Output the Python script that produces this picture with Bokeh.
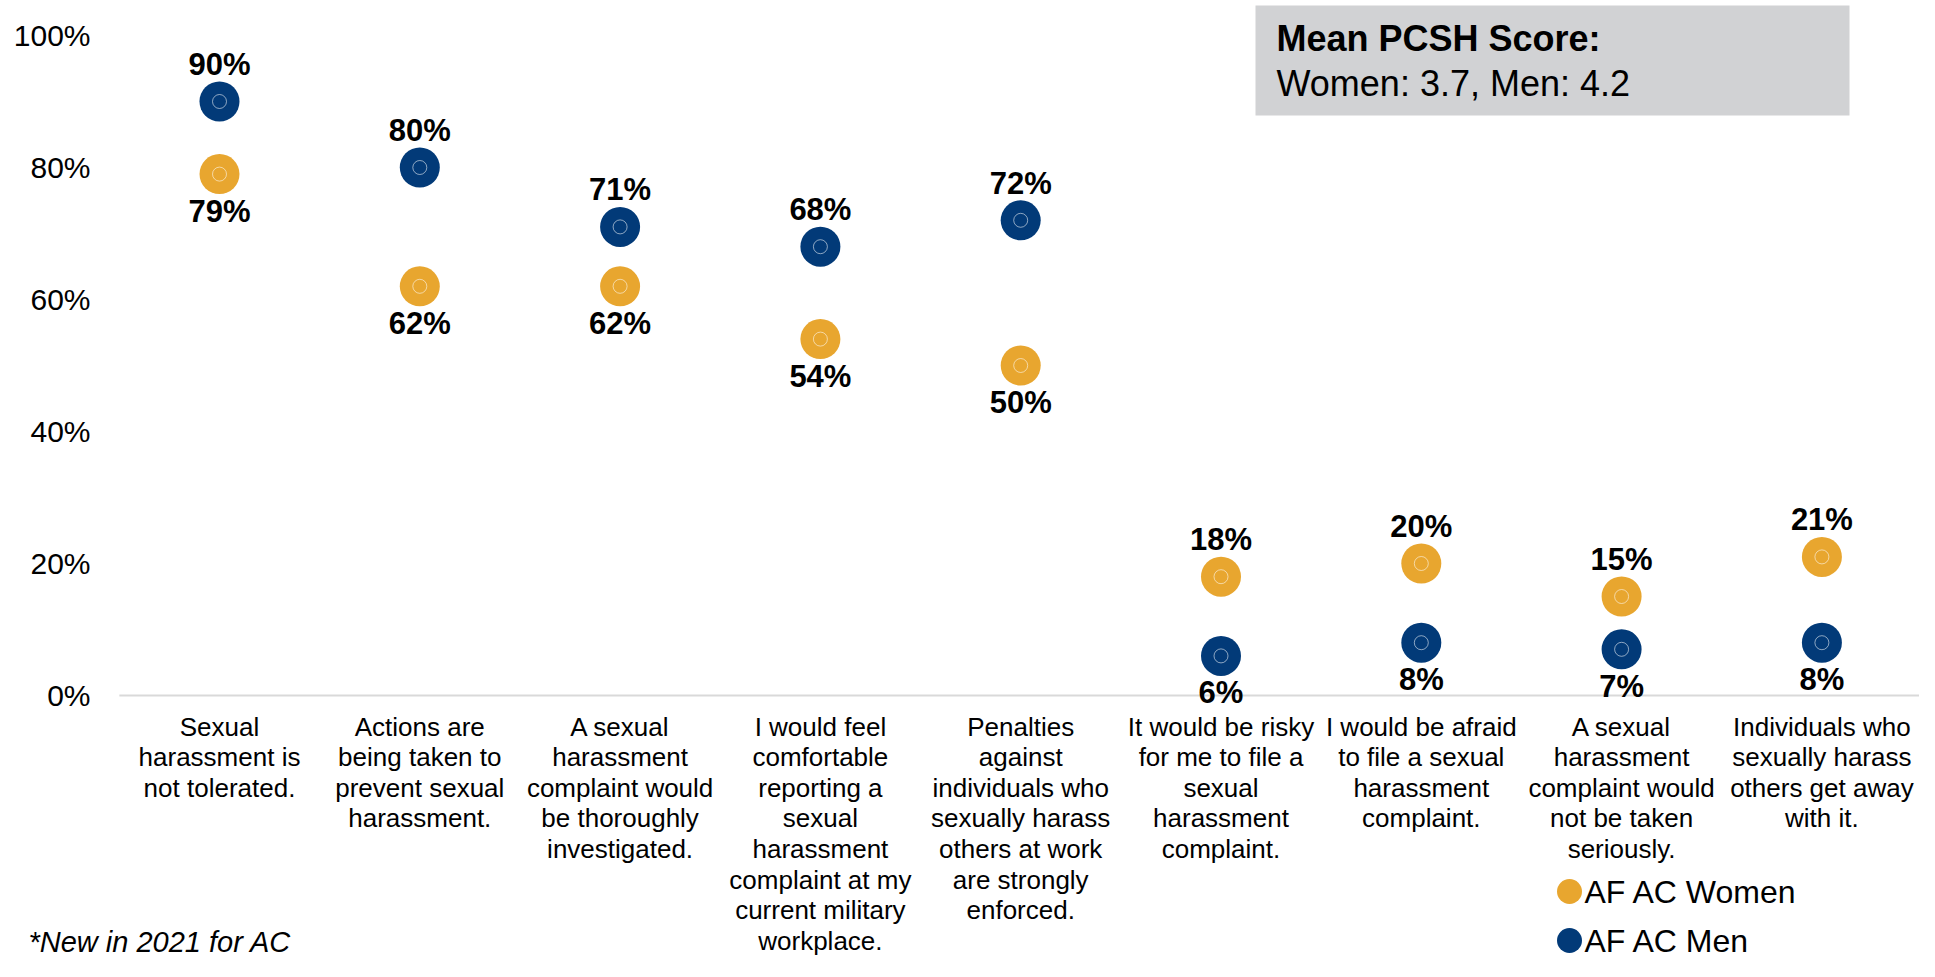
from bokeh.plotting import figure
from bokeh.models import Range1d, FixedTicker, BoxAnnotation, ColumnDataSource
from bokeh.core.properties import value
from bokeh.embed import file_html
from bokeh.resources import INLINE

# ---------------- data ----------------
categories = [
    "Sexual\nharassment is\nnot tolerated.",
    "Actions are\nbeing taken to\nprevent sexual\nharassment.",
    "A sexual\nharassment\ncomplaint would\nbe thoroughly\ninvestigated.",
    "I would feel\ncomfortable\nreporting a\nsexual\nharassment\ncomplaint at my\ncurrent military\nworkplace.",
    "Penalties\nagainst\nindividuals who\nsexually harass\nothers at work\nare strongly\nenforced.",
    "It would be risky\nfor me to file a\nsexual\nharassment\ncomplaint.",
    "I would be afraid\nto file a sexual\nharassment\ncomplaint.",
    "A sexual\nharassment\ncomplaint would\nnot be taken\nseriously.",
    "Individuals who\nsexually harass\nothers get away\nwith it.",
]
women = [79, 62, 62, 54, 50, 18, 20, 15, 21]
men = [90, 80, 71, 68, 72, 6, 8, 7, 8]
series_names = ["AF AC Women", "AF AC Men"]
y_ticks = [0, 20, 40, 60, 80, 100]
y_tick_labels = ["0%", "20%", "40%", "60%", "80%", "100%"]
box_title = "Mean PCSH Score:"
box_text = "Women: 3.7, Men: 4.2"
footnote = "*New in 2021 for AC"

# ---------------- layout ----------------
GOLD = "#E8A62F"
NAVY = "#023A78"
FONT = "Liberation Sans"

W, H = 1919, 961
LEFT = 12                      # frame starts near the left edge
Y0_PX, Y100_PX = 695, 35       # pixel rows of 0% and 100%
PPU = (Y0_PX - Y100_PX) / 100.0
X0_PX, CAT_W = 219, 200.3      # centre of first category, category pitch


def ydata(py):
    return (Y0_PX - py) / PPU


def xdata(px):
    return (px - X0_PX) / CAT_W


y_top, y_bot = ydata(0), ydata(H)
xpos = list(range(len(categories)))

off = 37 / PPU
w_lab_y = [w + off if w > m else w - off for w, m in zip(women, men)]
m_lab_y = [m + off if m > w else m - off for w, m in zip(women, men)]

src = ColumnDataSource(dict(
    x=xpos,
    cat=categories,
    women=women,
    men=men,
    wly=w_lab_y,
    mly=m_lab_y,
    wl=[f"{v}%" for v in women],
    ml=[f"{v}%" for v in men],
    caty=[ydata(711)] * len(categories),
))

p = figure(x_range=Range1d(xdata(LEFT), xdata(W)), y_range=Range1d(y_bot, y_top),
           width=W, height=H, output_backend="svg", toolbar_location=None,
           min_border_left=LEFT, min_border_right=0,
           min_border_top=0, min_border_bottom=0,
           outline_line_color=None, background_fill_color="white",
           border_fill_color="white")

p.xaxis.visible = False
p.grid.visible = False

yax = p.yaxis[0]
yax.ticker = FixedTicker(ticks=y_ticks)
yax.major_label_overrides = {t: l for t, l in zip(y_ticks, y_tick_labels)}
yax.axis_line_color = None
yax.major_tick_line_color = None
yax.minor_tick_line_color = None
yax.major_tick_out = 0
yax.major_tick_in = 0
yax.major_label_standoff = LEFT - 90   # labels end at x = 90
yax.major_label_text_font = FONT
yax.major_label_text_font_size = "30px"
yax.major_label_text_color = "#000000"

# baseline across the category band
p.segment(x0=[xpos[0] - 0.5], y0=[0], x1=[xpos[-1] + 0.5], y1=[0],
          line_color="#D9D9D9", line_width=2)

# markers
for col, color in (("women", GOLD), ("men", NAVY)):
    p.scatter("x", col, source=src, size=40, fill_color=color, line_color=None)
    p.scatter("x", col, source=src, size=14, fill_color=None,
              line_color="white", line_alpha=0.55, line_width=1)

# data labels
for ycol, tcol in (("wly", "wl"), ("mly", "ml")):
    p.text(x="x", y=ycol, text=tcol, source=src, text_font=value(FONT),
           text_font_size="31px", text_font_style="bold", text_align="center",
           text_baseline="middle", text_color="#000000")

# category labels
p.text(x="x", y="caty", text="cat", source=src, text_font=value(FONT),
       text_font_size="26px", text_align="center", text_baseline="top",
       text_line_height=1.02, text_color="#000000")

# mean score box
p.add_layout(BoxAnnotation(left=xdata(1255), right=xdata(1849), top=ydata(5),
                           bottom=ydata(115), fill_color="#D1D2D4", fill_alpha=1,
                           line_color=None, level="underlay"))
p.text(x=[xdata(1276)], y=[ydata(37.5)], text=[box_title], text_font=value(FONT),
       text_font_size="36px", text_font_style="bold", text_baseline="middle",
       text_align="left", text_color="#000000")
p.text(x=[xdata(1276)], y=[ydata(83)], text=[box_text], text_font=value(FONT),
       text_font_size="36px", text_baseline="middle", text_align="left",
       text_color="#000000")

# legend (manual)
leg_x = xdata(1569)
leg_y = [ydata(891), ydata(940)]
p.scatter(x=[leg_x, leg_x], y=leg_y, size=25, fill_color=[GOLD, NAVY], line_color=None)
p.text(x=[leg_x, leg_x], y=leg_y, text=series_names, x_offset=15,
       text_font=value(FONT), text_font_size="32px", text_align="left",
       text_baseline="middle", text_color="#000000")

# footnote
p.text(x=[xdata(28)], y=[ydata(941)], text=[footnote], text_font=value(FONT),
       text_font_size="29px", text_font_style="italic", text_baseline="middle",
       text_align="left", text_color="#000000")

open("out.html", "w").write(file_html(p, INLINE))
